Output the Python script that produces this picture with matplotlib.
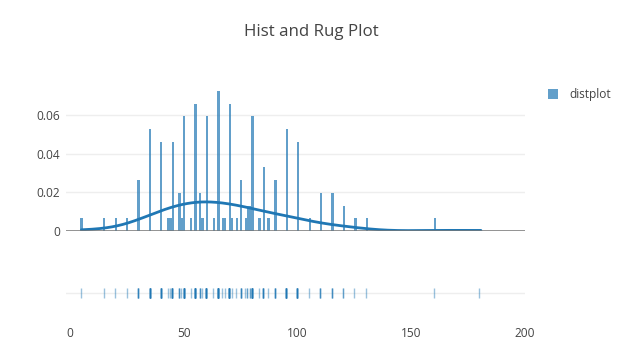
import numpy as np
import matplotlib
matplotlib.use("Agg")
import matplotlib.pyplot as plt
from matplotlib.patches import Rectangle

# ---- data ----
values = [5, 15, 20, 25, 30, 35, 40, 43, 44, 45, 48, 49, 50, 53, 55, 57, 58,
          60, 63, 65, 67, 68, 70, 71, 73, 75, 77, 78, 79, 80, 83, 85, 87, 90,
          95, 100, 105, 110, 115, 120, 125, 130, 160, 180]
counts = [1, 1, 1, 1, 4, 8, 7, 1, 1, 7, 3, 1, 9, 1, 10, 3, 1,
          9, 1, 11, 1, 1, 10, 1, 1, 4, 1, 2, 2, 9, 1, 5, 1, 4,
          8, 7, 1, 3, 3, 2, 1, 1, 1, 1]
series_name = "distplot"
title = "Hist and Rug Plot"
xticks = [0, 50, 100, 150, 200]
yticks = [0, 0.02, 0.04, 0.06]
ytick_labels = ["0", "0.02", "0.04", "0.06"]

data = np.repeat(np.array(values, dtype=float), counts)
N = len(data)

# ---- style ----
plt.rcParams['font.family'] = ['Open Sans', 'DejaVu Sans']
BLUE = "#1f77b4"
TXT = "#444444"
GRID = "#eeeeee"
W, H = 630, 364

fig = plt.figure(figsize=(W / 100, H / 100), dpi=100)

def ax_rect(left, top, right, bottom):
    return [left / W, (H - bottom) / H, (right - left) / W, (bottom - top) / H]

xmin, xmax = -1.75, 199.3

# ---- histogram + kde ----
ax = fig.add_axes(ax_rect(66, 81.6, 525, 231))
edges = np.arange(min(values) - 0.5, max(values) - 0.5 + 0.001, 1.0)
ax.hist(data, bins=edges, weights=np.full(N, 1.0 / N), color=BLUE, alpha=0.7,
        linewidth=0, zorder=2)

# gaussian kde (Scott's rule)
bw = N ** (-1 / 5) * np.std(data, ddof=1)
xs = np.linspace(data.min(), data.max(), 500)
kde = np.exp(-0.5 * ((xs[:, None] - data[None, :]) / bw) ** 2).sum(axis=1) / (N * bw * np.sqrt(2 * np.pi))
ax.plot(xs, kde, color=BLUE, lw=2, zorder=3, solid_capstyle='round')

ax.set_xlim(xmin, xmax)
ax.set_ylim(0, 0.0772)
ax.set_yticks(yticks)
ax.set_yticklabels(ytick_labels)
ax.set_xticks([])
ax.tick_params(axis='y', length=0, pad=4.3, labelsize=8.6, labelcolor=TXT)
ax.grid(axis='y', color=GRID, lw=1, zorder=0)
ax.axhline(0, color="#777777", lw=1.1, zorder=4)
for s in ax.spines.values():
    s.set_visible(False)
ax.set_facecolor('none')

# ---- rug ----
rx = fig.add_axes(ax_rect(66, 273, 525, 313))
rx.plot(data, np.zeros(N), linestyle='none', marker='|', markersize=7.2,
        markeredgewidth=1.0, color=BLUE, alpha=0.45, zorder=3)
rx.axhline(0, color=GRID, lw=1, zorder=0)
rx.set_xlim(xmin, xmax)
rx.set_ylim(-1, 1)
rx.set_yticks([])
rx.set_xticks(xticks)
rx.set_xticklabels([str(t) for t in xticks])
rx.tick_params(axis='x', length=0, pad=10, labelsize=8.6, labelcolor=TXT)
for s in rx.spines.values():
    s.set_visible(False)
rx.set_facecolor('none')

# ---- title ----
fig.text(311.5 / W, 1 - 32 / H, title, ha='center', va='center',
         fontsize=12.2, color=TXT)

# ---- legend ----
fig.add_artist(Rectangle((548 / W, 1 - 99.5 / H), 10 / W, 10 / H,
                         transform=fig.transFigure, facecolor=BLUE, alpha=0.7,
                         edgecolor='none'))
fig.text(569 / W, 1 - 94.5 / H, series_name, ha='left', va='center',
         fontsize=8.6, color=TXT)

fig.savefig("out.png", dpi=100)
